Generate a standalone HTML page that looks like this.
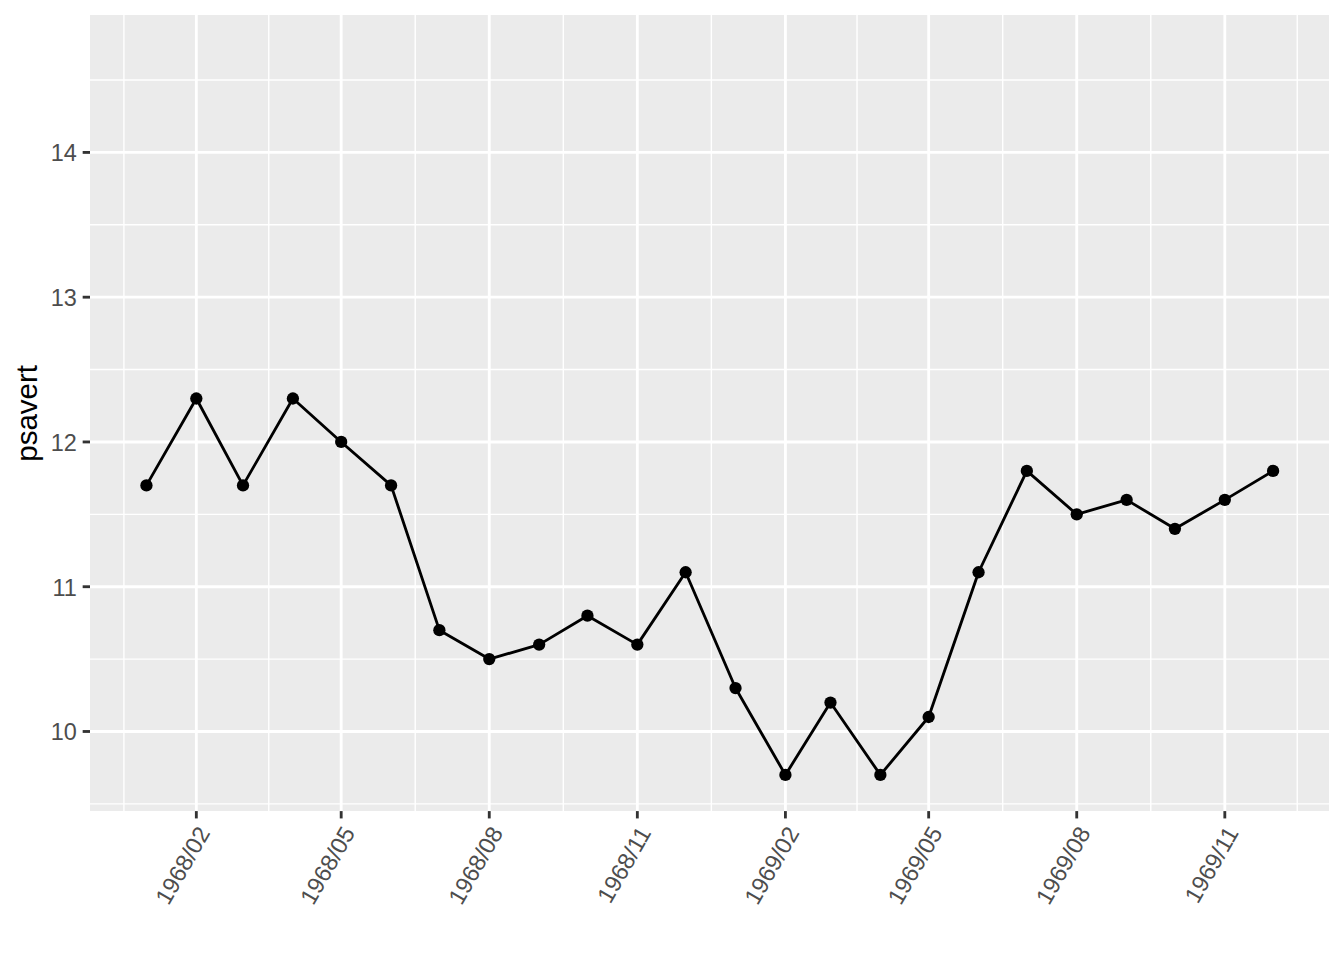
<!DOCTYPE html>
<html><head><meta charset="utf-8"><style>
html,body{margin:0;padding:0;background:#fff;}
svg{display:block;}
text{font-family:"Liberation Sans",Arial,sans-serif;font-size:23.47px;fill:#4D4D4D;}
text.t{font-size:29.5px;fill:#000;}
</style></head><body>
<svg width="1344" height="960" viewBox="0 0 1344 960">
<rect width="1344" height="960" fill="#fff"/>
<rect x="90.0" y="15.0" width="1239.000" height="796.000" fill="#EBEBEB"/>
<line x1="90.0" x2="1329.0" y1="803.862" y2="803.862" stroke="#fff" stroke-width="1.42"/>
<line x1="90.0" x2="1329.0" y1="659.098" y2="659.098" stroke="#fff" stroke-width="1.42"/>
<line x1="90.0" x2="1329.0" y1="514.335" y2="514.335" stroke="#fff" stroke-width="1.42"/>
<line x1="90.0" x2="1329.0" y1="369.571" y2="369.571" stroke="#fff" stroke-width="1.42"/>
<line x1="90.0" x2="1329.0" y1="224.807" y2="224.807" stroke="#fff" stroke-width="1.42"/>
<line x1="90.0" x2="1329.0" y1="80.044" y2="80.044" stroke="#fff" stroke-width="1.42"/>
<line x1="123.900" x2="123.900" y1="15.0" y2="811.0" stroke="#fff" stroke-width="1.42"/>
<line x1="268.757" x2="268.757" y1="15.0" y2="811.0" stroke="#fff" stroke-width="1.42"/>
<line x1="415.224" x2="415.224" y1="15.0" y2="811.0" stroke="#fff" stroke-width="1.42"/>
<line x1="563.300" x2="563.300" y1="15.0" y2="811.0" stroke="#fff" stroke-width="1.42"/>
<line x1="711.376" x2="711.376" y1="15.0" y2="811.0" stroke="#fff" stroke-width="1.42"/>
<line x1="857.038" x2="857.038" y1="15.0" y2="811.0" stroke="#fff" stroke-width="1.42"/>
<line x1="1002.700" x2="1002.700" y1="15.0" y2="811.0" stroke="#fff" stroke-width="1.42"/>
<line x1="1150.776" x2="1150.776" y1="15.0" y2="811.0" stroke="#fff" stroke-width="1.42"/>
<line x1="1297.243" x2="1297.243" y1="15.0" y2="811.0" stroke="#fff" stroke-width="1.42"/>
<line x1="90.0" x2="1329.0" y1="731.480" y2="731.480" stroke="#fff" stroke-width="2.845"/>
<line x1="90.0" x2="1329.0" y1="586.716" y2="586.716" stroke="#fff" stroke-width="2.845"/>
<line x1="90.0" x2="1329.0" y1="441.953" y2="441.953" stroke="#fff" stroke-width="2.845"/>
<line x1="90.0" x2="1329.0" y1="297.189" y2="297.189" stroke="#fff" stroke-width="2.845"/>
<line x1="90.0" x2="1329.0" y1="152.425" y2="152.425" stroke="#fff" stroke-width="2.845"/>
<line x1="196.329" x2="196.329" y1="15.0" y2="811.0" stroke="#fff" stroke-width="2.845"/>
<line x1="341.186" x2="341.186" y1="15.0" y2="811.0" stroke="#fff" stroke-width="2.845"/>
<line x1="489.262" x2="489.262" y1="15.0" y2="811.0" stroke="#fff" stroke-width="2.845"/>
<line x1="637.338" x2="637.338" y1="15.0" y2="811.0" stroke="#fff" stroke-width="2.845"/>
<line x1="785.414" x2="785.414" y1="15.0" y2="811.0" stroke="#fff" stroke-width="2.845"/>
<line x1="928.662" x2="928.662" y1="15.0" y2="811.0" stroke="#fff" stroke-width="2.845"/>
<line x1="1076.738" x2="1076.738" y1="15.0" y2="811.0" stroke="#fff" stroke-width="2.845"/>
<line x1="1224.814" x2="1224.814" y1="15.0" y2="811.0" stroke="#fff" stroke-width="2.845"/>
<polyline points="146.433,485.382 196.329,398.524 243.005,485.382 292.900,398.524 341.186,441.953 391.081,485.382 439.367,630.145 489.262,659.098 539.157,644.622 587.443,615.669 637.338,644.622 685.624,572.240 735.519,688.051 785.414,774.909 830.481,702.527 880.376,774.909 928.662,717.004 978.557,572.240 1026.843,470.905 1076.738,514.335 1126.633,499.858 1174.919,528.811 1224.814,499.858 1273.100,470.905" fill="none" stroke="#000" stroke-width="2.845" stroke-linejoin="round" stroke-linecap="butt"/>
<circle cx="146.433" cy="485.382" r="6.15" fill="#000"/>
<circle cx="196.329" cy="398.524" r="6.15" fill="#000"/>
<circle cx="243.005" cy="485.382" r="6.15" fill="#000"/>
<circle cx="292.900" cy="398.524" r="6.15" fill="#000"/>
<circle cx="341.186" cy="441.953" r="6.15" fill="#000"/>
<circle cx="391.081" cy="485.382" r="6.15" fill="#000"/>
<circle cx="439.367" cy="630.145" r="6.15" fill="#000"/>
<circle cx="489.262" cy="659.098" r="6.15" fill="#000"/>
<circle cx="539.157" cy="644.622" r="6.15" fill="#000"/>
<circle cx="587.443" cy="615.669" r="6.15" fill="#000"/>
<circle cx="637.338" cy="644.622" r="6.15" fill="#000"/>
<circle cx="685.624" cy="572.240" r="6.15" fill="#000"/>
<circle cx="735.519" cy="688.051" r="6.15" fill="#000"/>
<circle cx="785.414" cy="774.909" r="6.15" fill="#000"/>
<circle cx="830.481" cy="702.527" r="6.15" fill="#000"/>
<circle cx="880.376" cy="774.909" r="6.15" fill="#000"/>
<circle cx="928.662" cy="717.004" r="6.15" fill="#000"/>
<circle cx="978.557" cy="572.240" r="6.15" fill="#000"/>
<circle cx="1026.843" cy="470.905" r="6.15" fill="#000"/>
<circle cx="1076.738" cy="514.335" r="6.15" fill="#000"/>
<circle cx="1126.633" cy="499.858" r="6.15" fill="#000"/>
<circle cx="1174.919" cy="528.811" r="6.15" fill="#000"/>
<circle cx="1224.814" cy="499.858" r="6.15" fill="#000"/>
<circle cx="1273.100" cy="470.905" r="6.15" fill="#000"/>
<line x1="82.667" x2="90.0" y1="731.480" y2="731.480" stroke="#333" stroke-width="2.845"/>
<line x1="82.667" x2="90.0" y1="586.716" y2="586.716" stroke="#333" stroke-width="2.845"/>
<line x1="82.667" x2="90.0" y1="441.953" y2="441.953" stroke="#333" stroke-width="2.845"/>
<line x1="82.667" x2="90.0" y1="297.189" y2="297.189" stroke="#333" stroke-width="2.845"/>
<line x1="82.667" x2="90.0" y1="152.425" y2="152.425" stroke="#333" stroke-width="2.845"/>
<line x1="196.329" x2="196.329" y1="811.1" y2="818.433" stroke="#333" stroke-width="2.845"/>
<line x1="341.186" x2="341.186" y1="811.1" y2="818.433" stroke="#333" stroke-width="2.845"/>
<line x1="489.262" x2="489.262" y1="811.1" y2="818.433" stroke="#333" stroke-width="2.845"/>
<line x1="637.338" x2="637.338" y1="811.1" y2="818.433" stroke="#333" stroke-width="2.845"/>
<line x1="785.414" x2="785.414" y1="811.1" y2="818.433" stroke="#333" stroke-width="2.845"/>
<line x1="928.662" x2="928.662" y1="811.1" y2="818.433" stroke="#333" stroke-width="2.845"/>
<line x1="1076.738" x2="1076.738" y1="811.1" y2="818.433" stroke="#333" stroke-width="2.845"/>
<line x1="1224.814" x2="1224.814" y1="811.1" y2="818.433" stroke="#333" stroke-width="2.845"/>
<text x="76.800" y="740.280" text-anchor="end">10</text>
<text x="76.800" y="595.516" text-anchor="end">11</text>
<text x="76.800" y="450.753" text-anchor="end">12</text>
<text x="76.800" y="305.989" text-anchor="end">13</text>
<text x="76.800" y="161.225" text-anchor="end">14</text>
<text transform="translate(196.329,824.300) rotate(-60)" x="0" y="16.8" text-anchor="end">1968/02</text>
<text transform="translate(341.186,824.300) rotate(-60)" x="0" y="16.8" text-anchor="end">1968/05</text>
<text transform="translate(489.262,824.300) rotate(-60)" x="0" y="16.8" text-anchor="end">1968/08</text>
<text transform="translate(637.338,824.300) rotate(-60)" x="0" y="16.8" text-anchor="end">1968/11</text>
<text transform="translate(785.414,824.300) rotate(-60)" x="0" y="16.8" text-anchor="end">1969/02</text>
<text transform="translate(928.662,824.300) rotate(-60)" x="0" y="16.8" text-anchor="end">1969/05</text>
<text transform="translate(1076.738,824.300) rotate(-60)" x="0" y="16.8" text-anchor="end">1969/08</text>
<text transform="translate(1224.814,824.300) rotate(-60)" x="0" y="16.8" text-anchor="end">1969/11</text>
<text class="t" transform="translate(36.600,413.380) rotate(-90)" x="0" y="0" text-anchor="middle">psavert</text>
</svg>
</body></html>
